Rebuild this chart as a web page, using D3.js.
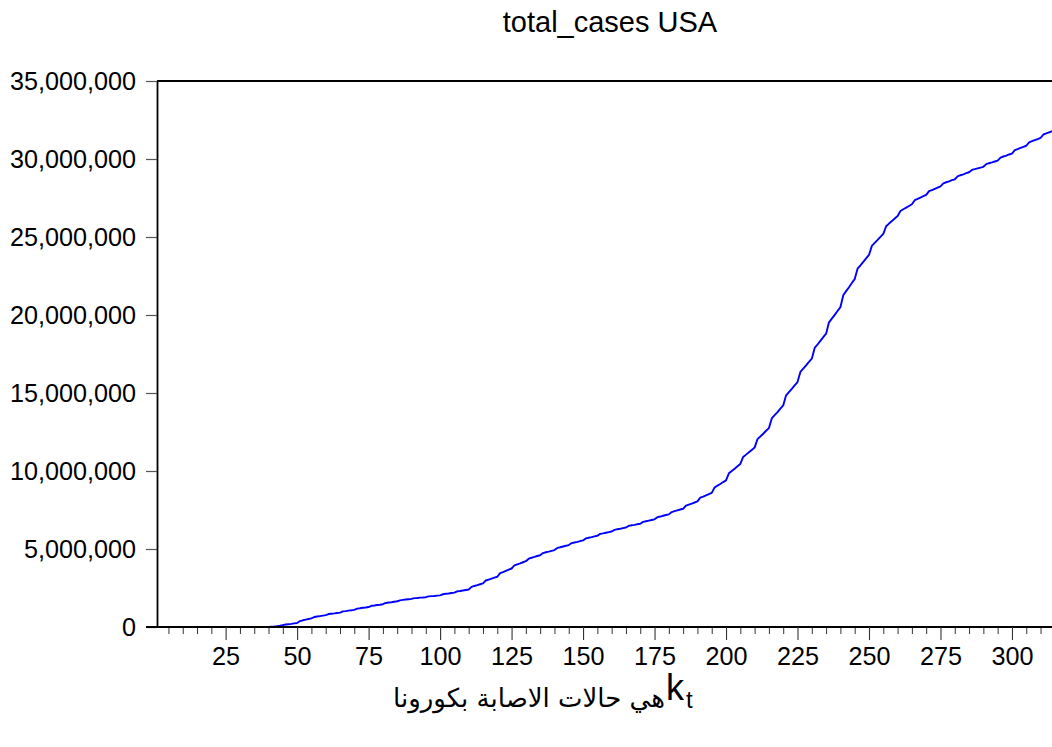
<!DOCTYPE html>
<html>
<head>
<meta charset="utf-8">
<script src="https://cdn.jsdelivr.net/npm/d3@7"></script>
<style>
  body { margin: 0; background: #ffffff; }
  svg text { font-family: "Liberation Sans", Arial, "DejaVu Sans", sans-serif; fill: #000; }
</style>
</head>
<body>
<svg id="chart" width="1052" height="747"></svg>
<script>
// ---------- data ----------
const chartTitle = "total_cases USA";
const xLabelArabic = "هي حالات الاصابة بكورونا";
const xLabelSymbol = "k";
const xLabelSub = "t";

const xMajorTicks = [25, 50, 75, 100, 125, 150, 175, 200, 225, 250, 275, 300];
const xMinorTicks = [5, 10, 15, 20, 30, 35, 40, 45, 55, 60, 65, 70, 80, 85, 90, 95,
  105, 110, 115, 120, 130, 135, 140, 145, 155, 160, 165, 170, 180, 185, 190, 195,
  205, 210, 215, 220, 230, 235, 240, 245, 255, 260, 265, 270, 280, 285, 290, 295,
  305, 310];
const yTicks = [0, 5000000, 10000000, 15000000, 20000000, 25000000, 30000000, 35000000];

// total cases (millions), observations 1..314
const totalCasesMillions = [
  0,0,0,0,0, 0,0,0,0,0, 0,0,0,0,0, 0,0,0,0,0, 0,0,0,0,0, 0,0,0,0,0, 0,0,0,0,0,
  0,0,0,0.01,0.01,
  0.02,0.03,0.05,0.08,0.12,
  0.16,0.18,0.20,0.23,0.26,
  0.38,0.43,0.47,0.51,0.55,
  0.64,0.67,0.70,0.73,0.76,
  0.83,0.85,0.87,0.90,0.92,
  1.00,1.02,1.05,1.07,1.10,
  1.18,1.20,1.23,1.25,1.28,
  1.36,1.38,1.41,1.43,1.46,
  1.54,1.57,1.59,1.62,1.65,
  1.71,1.74,1.76,1.78,1.80,
  1.85,1.86,1.88,1.89,1.91,
  1.96,1.98,1.99,2.01,2.03,
  2.10,2.13,2.15,2.18,2.20,
  2.29,2.31,2.34,2.37,2.40,
  2.57,2.63,2.68,2.74,2.80,
  2.98,3.04,3.10,3.16,3.22,
  3.45,3.52,3.60,3.68,3.75,
  3.95,4.02,4.08,4.15,4.22,
  4.38,4.44,4.49,4.55,4.60,
  4.74,4.79,4.83,4.88,4.93,
  5.07,5.11,5.16,5.21,5.25,
  5.38,5.42,5.46,5.51,5.55,
  5.68,5.72,5.76,5.81,5.85,
  5.97,6.00,6.04,6.08,6.12,
  6.23,6.27,6.30,6.34,6.38,
  6.48,6.52,6.55,6.59,6.62,
  6.74,6.78,6.82,6.86,6.90,
  7.04,7.08,7.13,7.18,7.22,
  7.37,7.43,7.48,7.53,7.58,
  7.78,7.85,7.91,7.98,8.05,
  8.29,8.36,8.44,8.52,8.60,
  8.94,9.06,9.17,9.29,9.40,
  9.85,10.00,10.15,10.30,10.45,
  10.90,11.05,11.20,11.35,11.50,
  12.04,12.21,12.39,12.58,12.75,
  13.37,13.58,13.78,14.00,14.20,
  14.85,15.06,15.27,15.49,15.70,
  16.35,16.56,16.77,16.99,17.20,
  17.89,18.11,18.34,18.58,18.80,
  19.53,19.77,20.01,20.26,20.50,
  21.27,21.53,21.78,22.05,22.30,
  22.97,23.18,23.40,23.63,23.85,
  24.43,24.62,24.81,25.01,25.20,
  25.69,25.86,26.02,26.19,26.35,
  26.67,26.78,26.88,26.99,27.10,
  27.36,27.44,27.53,27.62,27.70,
  27.94,28.01,28.09,28.17,28.25,
  28.44,28.51,28.57,28.64,28.70,
  28.89,28.96,29.02,29.09,29.15,
  29.30,29.35,29.40,29.45,29.50,
  29.67,29.73,29.78,29.84,29.90,
  30.09,30.16,30.22,30.29,30.35,
  30.57,30.64,30.71,30.78,30.85,
  31.07,31.14,31.21,31.28,31.35,
  31.57,31.64,31.71,31.78
];

// ---------- layout ----------
const svg = d3.select("#chart");
const plotLeft = 157, plotRight = 1052, plotTop = 81, plotBottom = 627;

const x = d3.scaleLinear().domain([1, 314]).range([plotLeft, plotRight]);
const y = d3.scaleLinear().domain([0, 35000000]).range([plotBottom, plotTop]);

const series = totalCasesMillions.map((v, i) => ({ obs: i + 1, value: v * 1e6 }));

// line
svg.append("path")
  .datum(series)
  .attr("fill", "none")
  .attr("stroke", "#0000ff")
  .attr("stroke-width", 1.9)
  .attr("stroke-linejoin", "round")
  .attr("d", d3.line().x(d => x(d.obs)).y(d => y(d.value)));

// top frame line
svg.append("line")
  .attr("x1", plotLeft).attr("x2", plotRight)
  .attr("y1", plotTop).attr("y2", plotTop)
  .attr("stroke", "#000").attr("stroke-width", 1.8);

// y axis
const yAxis = d3.axisLeft(y)
  .tickValues(yTicks)
  .tickSize(11)
  .tickSizeOuter(0)
  .tickPadding(10)
  .tickFormat(d3.format(","));
const gy = svg.append("g").attr("transform", `translate(${plotLeft},0)`).call(yAxis);
gy.select(".domain").attr("stroke", "#000").attr("stroke-width", 1.8);
gy.selectAll(".tick line").attr("stroke", "#555").attr("stroke-width", 1.2);
gy.selectAll(".tick text").attr("font-size", 25.2).attr("font-family", '"Liberation Sans", Arial, sans-serif').attr("fill", "#000");

// x axis minor ticks
const xMinor = d3.axisBottom(x).tickValues(xMinorTicks).tickSize(7).tickSizeOuter(0).tickFormat("");
const gxm = svg.append("g").attr("transform", `translate(0,${plotBottom})`).call(xMinor);
gxm.select(".domain").remove();
gxm.selectAll(".tick line").attr("stroke", "#333").attr("stroke-width", 1);

// x axis major
const xAxis = d3.axisBottom(x).tickValues(xMajorTicks).tickSize(13).tickSizeOuter(0).tickPadding(7).tickFormat(d3.format("d"));
const gx = svg.append("g").attr("transform", `translate(0,${plotBottom})`).call(xAxis);
gx.select(".domain").attr("stroke", "#000").attr("stroke-width", 1.8)
  .attr("d", `M${plotLeft - 11},0H${plotRight}`);
gx.selectAll(".tick line").attr("stroke", "#333").attr("stroke-width", 1.1);
gx.selectAll(".tick text").attr("font-size", 25.2).attr("font-family", '"Liberation Sans", Arial, sans-serif').attr("fill", "#000");

// title
svg.append("text")
  .attr("x", 610).attr("y", 32)
  .attr("text-anchor", "middle")
  .attr("font-size", 29)
  .text(chartTitle);

// x label: Arabic text followed by k_t
const labelEnd = 665;
svg.append("text")
  .attr("x", labelEnd).attr("y", 707)
  .attr("text-anchor", "end")
  .attr("font-size", 26)
  .style("font-family", '"DejaVu Sans", "Noto Sans", sans-serif')
  .text(xLabelArabic);
svg.append("text")
  .attr("x", labelEnd + 1).attr("y", 700)
  .attr("font-size", 36)
  .text(xLabelSymbol);
svg.append("text")
  .attr("x", labelEnd + 21).attr("y", 708)
  .attr("font-size", 24)
  .text(xLabelSub);
</script>
</body>
</html>
